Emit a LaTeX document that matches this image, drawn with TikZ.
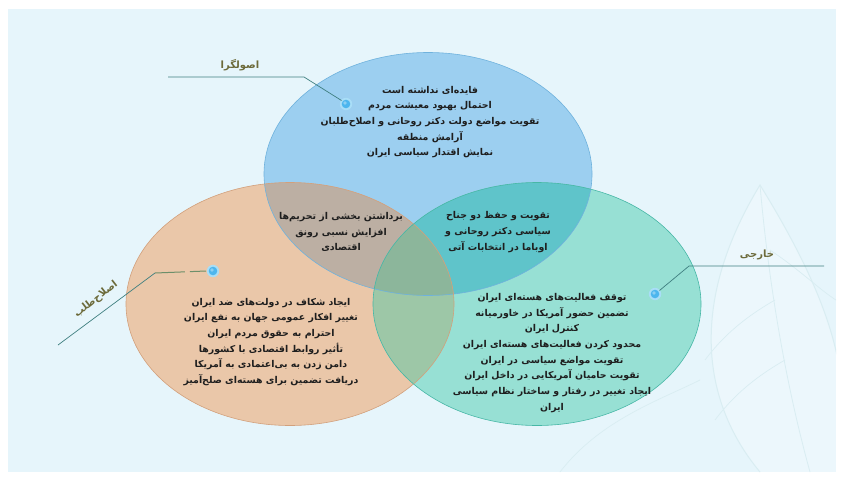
\documentclass[tikz,border=0pt]{standalone}
\usepackage{fontspec}
\TeXXeTstate=1
\newfontfamily\fa[Script=Arabic]{DejaVu Sans}
\newcommand\rl[1]{\beginR #1\endR}
\definecolor{bgc}{HTML}{E6F5FB}
\definecolor{topc}{HTML}{9CCFF0}
\definecolor{leftc}{HTML}{EAC7A9}
\definecolor{rightc}{HTML}{97E0D4}
\definecolor{tlc}{HTML}{BCAFA3}
\definecolor{trc}{HTML}{5FC4CA}
\definecolor{lrc}{HTML}{9DC7A7}
\definecolor{ctrc}{HTML}{8CB69B}
\definecolor{topedge}{HTML}{6FB2DD}
\definecolor{leftedge}{HTML}{D2A07C}
\definecolor{rightedge}{HTML}{47B7A6}
\definecolor{linec}{HTML}{3F7F80}
\definecolor{dashc}{HTML}{6D8F6A}
\definecolor{labc}{HTML}{6C6A3A}
\definecolor{txtc}{HTML}{1E1E1E}
\definecolor{dotc}{HTML}{4DB6EE}
\definecolor{haloc}{HTML}{A9DEF7}
\definecolor{leafc}{HTML}{D9EDF2}
\tikzset{
  ctext/.style={font=\fa\bfseries\fontsize{9.4}{15.7}\selectfont, text=txtc, align=center, inner sep=0pt},
  lab/.style={font=\fa\bfseries\fontsize{10}{12}\selectfont, text=labc, inner sep=0pt},
  conn/.style={draw=linec, line width=0.7pt},
}
\newcommand\glowdot[2]{%
  \fill[haloc] (#2) circle (6.2);
  \fill[dotc] (#2) circle (4.3);
  \fill[white,opacity=0.35] ($(#2)+(-1,-1)$) circle (1.8);
  \coordinate (#1) at (#2);
}
\usetikzlibrary{calc}
\begin{document}
\begin{tikzpicture}[x=1pt,y=-1pt]
\useasboundingbox (0,0) rectangle (842,490);
\fill[white] (0,0) rectangle (842,490);
\fill[bgc] (8,9) rectangle (836,472);
% faint leaf watermark
\begin{scope}
\clip (8,9) rectangle (836,472);
\fill[white, opacity=0.25] (760,472) .. controls (700,400) and (690,300) .. (760,185) .. controls (800,250) and (842,330) .. (842,400) -- (842,472) -- cycle;
\draw[leafc, line width=1pt] (760,472) .. controls (700,400) and (690,300) .. (760,185) .. controls (800,250) and (842,330) .. (842,400);
\draw[leafc, line width=0.8pt] (760,185) .. controls (770,300) and (790,400) .. (810,472);
\draw[leafc, line width=0.7pt] (775,300) .. controls (740,320) and (720,340) .. (705,360);
\draw[leafc, line width=0.7pt] (785,360) .. controls (750,380) and (730,400) .. (715,420);
\draw[leafc, line width=0.7pt] (770,250) .. controls (800,270) and (820,290) .. (836,300);
\draw[leafc, line width=0.7pt] (560,472) .. controls (600,420) and (660,400) .. (700,380);
\end{scope}
% ellipses
\def\ET{(428,174) ellipse [x radius=164, y radius=121.5]}
\def\EL{(290,304) ellipse [x radius=164, y radius=121.5]}
\def\ER{(537,304) ellipse [x radius=164, y radius=121.5]}
\fill[topc] \ET;
\fill[leftc] \EL;
\fill[rightc] \ER;
\begin{scope}\clip \ET; \fill[tlc] \EL; \fill[trc] \ER; \end{scope}
\begin{scope}\clip \EL; \fill[lrc] \ER; \end{scope}
\begin{scope}\clip \ET; \clip \EL; \fill[ctrc] \ER; \end{scope}
\draw[topedge, line width=0.6pt] \ET;
\draw[leftedge, line width=0.6pt] \EL;
\draw[rightedge, line width=0.6pt] \ER;
% texts
\node[ctext] (ttop) at (430,122) {\rl{فایده‌ای نداشته است}\\\rl{احتمال بهبود معیشت مردم}\\\rl{تقویت مواضع دولت دکتر روحانی و اصلاح‌طلبان}\\\rl{آرامش منطقه}\\\rl{نمایش اقتدار سیاسی ایران}};
\node[ctext] (ttl) at (341,232) {\rl{برداشتن بخشی از تحریم‌ها}\\\rl{افزایش نسبی رونق}\\\rl{اقتصادی}};
\node[ctext] (ttr) at (498,232) {\rl{تقویت و حفظ دو جناح}\\\rl{سیاسی دکتر روحانی و}\\\rl{اوباما در انتخابات آتی}};
\node[ctext] (tleft) at (271,342) {\rl{ایجاد شکاف در دولت‌های ضد ایران}\\\rl{تغییر افکار عمومی جهان به نفع ایران}\\\rl{احترام به حقوق مردم ایران}\\\rl{تأثیر روابط اقتصادی با کشورها}\\\rl{دامن زدن به بی‌اعتمادی به آمریکا}\\\rl{دریافت تضمین برای هسته‌ای صلح‌آمیز}};
\node[ctext] (tright) at (552,353) {\rl{توقف فعالیت‌های هسته‌ای ایران}\\\rl{تضمین حضور آمریکا در خاورمیانه}\\\rl{کنترل ایران}\\\rl{محدود کردن فعالیت‌های هسته‌ای ایران}\\\rl{تقویت مواضع سیاسی در ایران}\\\rl{تقویت حامیان آمریکایی در داخل ایران}\\\rl{ایجاد تغییر در رفتار و ساختار نظام سیاسی}\\\rl{ایران}};
% dots
\glowdot{dtop}{346,104}
\glowdot{dleft}{213,271}
\glowdot{dright}{655,294}
% connectors
\coordinate (ctop1) at (168,77);
\coordinate (ctop2) at (304,77);
\draw[conn] (ctop1) -- (ctop2) -- ($(dtop)+(-4.5,-3.5)$);
\coordinate (cl1) at (58,345);
\coordinate (cl2) at (155,273);
\draw[conn] (cl1) -- (cl2);
\draw[dashc, line width=1pt, dash pattern=on 30pt off 5pt] (cl2) -- ($(dleft)+(-7,0)$);
\coordinate (cr1) at (824,266);
\coordinate (cr2) at (689,266);
\draw[conn] (cr1) -- (cr2) -- ($(dright)+(4.5,-3.5)$);
% labels
\node[lab] (ltop) at (240,65) {\rl{اصولگرا}};
\node[lab] (lright) at (757,255) {\rl{خارجی}};
\node[lab, rotate=38] (lleft) at (96,299) {\rl{اصلاح‌طلب}};
\end{tikzpicture}
\end{document}
